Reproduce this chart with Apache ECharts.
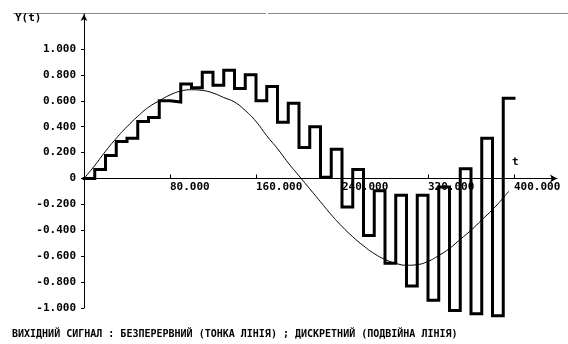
<!DOCTYPE html>
<html>
<head>
<meta charset="utf-8">
<script src="https://cdn.jsdelivr.net/npm/echarts@6/dist/echarts.min.js"></script>
<style>
html,body{margin:0;padding:0;background:#fff;}
#c{width:568px;height:344px;}
</style>
</head>
<body>
<div id="c"></div>
<script>
// continuous output (thin line)
const contT = [0,10,20,30,40,50,60,70,80,90,100,110,120,130,140,150,160,170,180,190,200,210,220,230,240,250,260,270,280,290,300,310,320,330,340,350,360,370,380,390,395];
const contY = [0,0.10,0.21,0.31,0.40,0.48,0.55,0.60,0.645,0.675,0.685,0.68,0.66,0.625,0.59,0.525,0.44,0.33,0.23,0.12,0.02,-0.08,-0.18,-0.28,-0.37,-0.45,-0.52,-0.58,-0.625,-0.655,-0.67,-0.665,-0.64,-0.595,-0.54,-0.47,-0.40,-0.32,-0.24,-0.15,-0.10];
// discrete output (thick step line), one value per sampling interval
const stepT = [0,10,20,30,40,50,60,70,80,90,100,110,120,130,140,150,160,170,180,190,200,210,220,230,240,250,260,270,280,290,300,310,320,330,340,350,360,370,380,390];
const stepY = [0,0.07,0.177,0.285,0.31,0.44,0.47,0.60,0.59,0.73,0.70,0.82,0.72,0.835,0.695,0.80,0.60,0.71,0.435,0.58,0.24,0.40,0.01,0.225,-0.22,0.07,-0.44,-0.095,-0.655,-0.13,-0.83,-0.13,-0.94,-0.065,-1.02,0.075,-1.045,0.31,-1.06,0.62];
const stepEnd = 400;
const xTicks = [80,160,240,320,400];
const yTicks = [-1,-0.8,-0.6,-0.4,-0.2,0,0.2,0.4,0.6,0.8,1];
const caption = 'ВИХІДНИЙ СИГНАЛ : БЕЗПЕРЕРВНИЙ (ТОНКА ЛІНІЯ) ; ДИСКРЕТНИЙ (ПОДВІЙНА ЛІНІЯ)';

const FONT = 'DejaVu Sans Mono';
const Y_MIN = -1, Y_MAX = 1.27, G_TOP = 14, G_BOTTOM = 36, H = 344;
const gridH = H - G_TOP - G_BOTTOM;
const zeroOffset = -(gridH * (0 - Y_MIN) / (Y_MAX - Y_MIN));

const chart = echarts.init(document.getElementById('c'), null, {renderer:'canvas'});
const contData = contT.map((t,i)=>[t,contY[i]]);
const stepData = stepT.map((t,i)=>[t,stepY[i]]);
stepData.push([stepEnd, stepY[stepY.length-1]]);

chart.setOption({
  animation:false,
  backgroundColor:'#fff',
  grid:{left:84, right:11, top:G_TOP, bottom:G_BOTTOM},
  xAxis:{
    type:'value', min:0, max:440, offset:zeroOffset,
    axisLine:{onZero:false, lineStyle:{color:'#000', width:1}, symbol:['none','arrow'], symbolSize:[6,7]},
    axisTick:{show:true, inside:true, length:4, customValues:xTicks, lineStyle:{color:'#000'}},
    axisLabel:{customValues:xTicks, formatter:v=>v.toFixed(3), align:'left', margin:3,
      color:'#000', fontFamily:FONT, fontSize:11, fontWeight:'bold'},
    splitLine:{show:false}
  },
  yAxis:{
    type:'value', min:Y_MIN, max:Y_MAX,
    axisLine:{onZero:false, lineStyle:{color:'#000', width:1}, symbol:['none','arrow'], symbolSize:[5,7]},
    axisTick:{show:true, length:3, customValues:yTicks, lineStyle:{color:'#000'}},
    axisLabel:{customValues:yTicks, formatter:v=>v===0?'0':v.toFixed(3), margin:8,
      color:'#000', fontFamily:FONT, fontSize:11, fontWeight:'bold'},
    splitLine:{show:false}
  },
  graphic:[
    {type:'line', shape:{x1:13,y1:13.5,x2:266,y2:13.5}, style:{stroke:'#8a8a8a', lineWidth:1}, z:0},
    {type:'line', shape:{x1:268,y1:13.5,x2:568,y2:13.5}, style:{stroke:'#8a8a8a', lineWidth:1}, z:0},
    {type:'text', left:15, top:13, style:{text:'Y(t)', font:'bold 11px "'+FONT+'"', fill:'#000'}},
    {type:'text', left:512, top:157, style:{text:'t', font:'bold 11px "'+FONT+'"', fill:'#000'}},
    {type:'text', left:12, top:329, style:{text:caption, font:'bold 10px "'+FONT+'"', fill:'#000'}}
  ],
  series:[
    {type:'line', data:contData, smooth:true, showSymbol:false, clip:false,
      lineStyle:{color:'#000', width:1}, z:2},
    {type:'line', data:stepData, step:'end', showSymbol:false, clip:false,
      lineStyle:{color:'#000', width:3, join:'miter', cap:'square'}, z:3}
  ]
});
</script>
</body>
</html>
